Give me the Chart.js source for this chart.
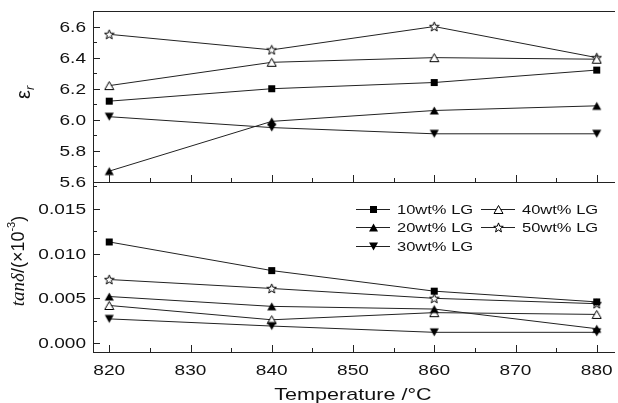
<!DOCTYPE html>
<html>
<head>
<meta charset="utf-8">
<script src="https://cdn.jsdelivr.net/npm/chart.js@4.4.0/dist/chart.umd.min.js"></script>
<style>
  body { margin: 0; background: #fff; }
  #wrap { width: 618px; height: 403px; }
</style>
</head>
<body>
<div id="wrap"><canvas id="myChart" width="618" height="403"></canvas></div>
<script>
// sintering temperatures (°C)
var temps = [820, 840, 860, 880];
var seriesNames = ['10wt% LG', '20wt% LG', '30wt% LG', '40wt% LG', '50wt% LG'];

// dielectric constant
var eps10 = [6.12, 6.20, 6.24, 6.32];
var eps20 = [5.67, 5.99, 6.06, 6.09];
var eps30 = [6.02, 5.95, 5.91, 5.91];
var eps40 = [6.22, 6.37, 6.40, 6.39];
var eps50 = [6.55, 6.45, 6.60, 6.40];

// dielectric loss
var tan10 = [0.0113, 0.0081, 0.0058, 0.0046];
var tan20 = [0.0052, 0.0041, 0.0038, 0.0016];
var tan30 = [0.0027, 0.0019, 0.0012, 0.0012];
var tan40 = [0.0042, 0.0026, 0.0034, 0.0032];
var tan50 = [0.0071, 0.0061, 0.0050, 0.0044];

// tick labels
var tempTicks = [820, 830, 840, 850, 860, 870, 880];
var epsTicks = [5.6, 5.8, 6.0, 6.2, 6.4, 6.6];
var tanTicks = [0.000, 0.005, 0.010, 0.015];

var SANS = '"Liberation Sans", Arial, Helvetica, sans-serif';
var INK = '#111';
var WIDE = 1.27; // the figure's lettering is set a bit wide

// little canvases used as point symbols
function marker(kind) {
  var c = document.createElement('canvas');
  c.width = 11; c.height = 11;
  var g = c.getContext('2d');
  g.fillStyle = '#000';
  g.strokeStyle = '#000';
  g.lineWidth = 1;
  if (kind == 'square') {
    g.fillRect(2, 2, 7, 7);
  } else if (kind == 'up' || kind == 'openUp') {
    g.beginPath();
    g.moveTo(5.5, 1.5); g.lineTo(10, 9.5); g.lineTo(1, 9.5); g.closePath();
    if (kind == 'up') { g.fill(); } else { g.fillStyle = '#fff'; g.fill(); g.stroke(); }
  } else if (kind == 'down') {
    g.beginPath();
    g.moveTo(1, 1.5); g.lineTo(10, 1.5); g.lineTo(5.5, 9.5); g.closePath();
    g.fill();
  } else {
    g.beginPath();
    for (var i = 0; i < 10; i++) {
      var r = i % 2 ? 2.1 : 5;
      var a = -Math.PI / 2 + i * Math.PI / 5;
      var px = 5.5 + r * Math.cos(a), py = 5.9 + r * Math.sin(a);
      if (i == 0) g.moveTo(px, py); else g.lineTo(px, py);
    }
    g.closePath();
    g.fillStyle = '#fff'; g.fill(); g.stroke();
  }
  return c;
}

var symbols = ['square', 'up', 'down', 'openUp', 'star'].map(marker);
var epsSeries = [eps10, eps20, eps30, eps40, eps50];
var tanSeries = [tan10, tan20, tan30, tan40, tan50];

function toPoints(vals) {
  return vals.map(function (v, i) { return { x: temps[i], y: v }; });
}

function makeSet(vals, i, axis) {
  return {
    label: seriesNames[i],
    data: toPoints(vals),
    yAxisID: axis,
    borderColor: '#222',
    borderWidth: 1,
    pointStyle: symbols[i],
    pointRadius: 4,
    tension: 0,
    fill: false
  };
}

var datasets = [];
epsSeries.forEach(function (s, i) { datasets.push(makeSet(s, i, 'yTop')); });
tanSeries.forEach(function (s, i) { datasets.push(makeSet(s, i, 'yBot')); });

// minor ticks sit halfway between the labelled ones
function minors(major, lo, hi) {
  var step = major[1] - major[0], out = [];
  for (var v = major[0] - step / 2; v <= hi + 1e-9; v += step) {
    if (v >= lo - 1e-9) out.push(v);
  }
  return out;
}

function hline(ctx, x1, x2, y) {
  y = Math.round(y) + 0.5;
  ctx.beginPath(); ctx.moveTo(x1, y); ctx.lineTo(x2, y); ctx.stroke();
}
function vline(ctx, x, y1, y2) {
  x = Math.round(x) + 0.5;
  ctx.beginPath(); ctx.moveTo(x, y1); ctx.lineTo(x, y2); ctx.stroke();
}
function wideText(ctx, text, x, y, align) {
  ctx.save();
  ctx.translate(x, y);
  ctx.scale(WIDE, 1);
  ctx.textAlign = align;
  ctx.fillText(text, 0, 0);
  ctx.restore();
}

// frame, inward ticks, tick labels, axis titles and the legend box
var framePlugin = {
  id: 'frame',
  afterDraw: function (chart) {
    var ctx = chart.ctx, a = chart.chartArea;
    var sx = chart.scales.x, st = chart.scales.yTop, sb = chart.scales.yBot;
    var mid = st.bottom;
    ctx.save();
    ctx.strokeStyle = '#222';
    ctx.lineWidth = 1;
    hline(ctx, a.left, a.right + 2, a.top);
    hline(ctx, a.left, a.right + 2, mid);
    hline(ctx, a.left, a.right + 2, a.bottom);
    vline(ctx, a.left, a.top, a.bottom + 1);

    // x ticks on both panels
    [mid, a.bottom].forEach(function (base) {
      tempTicks.forEach(function (v) { vline(ctx, sx.getPixelForValue(v), base - 7, base); });
      minors(tempTicks, sx.min, sx.max).forEach(function (v) {
        vline(ctx, sx.getPixelForValue(v), base - 4, base);
      });
    });
    // y ticks
    [[st, epsTicks], [sb, tanTicks]].forEach(function (p) {
      var s = p[0];
      p[1].forEach(function (v) { hline(ctx, a.left, a.left + 7, s.getPixelForValue(v)); });
      minors(p[1], s.min, s.max).forEach(function (v) {
        hline(ctx, a.left, a.left + 4, s.getPixelForValue(v));
      });
    });

    // tick labels
    ctx.fillStyle = INK;
    ctx.font = '15px ' + SANS;
    ctx.textBaseline = 'middle';
    epsTicks.forEach(function (v) { wideText(ctx, v.toFixed(1), a.left - 7, st.getPixelForValue(v) + 1, 'right'); });
    tanTicks.forEach(function (v) { wideText(ctx, v.toFixed(3), a.left - 7, sb.getPixelForValue(v) + 1, 'right'); });
    tempTicks.forEach(function (v) { wideText(ctx, String(v), sx.getPixelForValue(v), a.bottom + 19, 'center'); });

    // x title
    ctx.font = '17px ' + SANS;
    wideText(ctx, 'Temperature /°C', (a.left + a.right) / 2, a.bottom + 43, 'center');

    // y titles
    ctx.textBaseline = 'alphabetic';
    ctx.save();
    ctx.translate(30, (st.top + st.bottom) / 2 - 5);
    ctx.rotate(-Math.PI / 2);
    ctx.font = '20px ' + SANS;
    ctx.textAlign = 'left';
    var ew = ctx.measureText('ε').width;
    ctx.fillText('ε', -ew / 2 - 3, 0);
    ctx.font = 'italic 13px ' + SANS;
    ctx.fillText('r', ew / 2 - 3, 4);
    ctx.restore();

    ctx.save();
    ctx.translate(24, (sb.top + sb.bottom) / 2 - 6);
    ctx.rotate(-Math.PI / 2);
    var parts = [
      ['tanδ', 'italic 19px "Liberation Serif", "Times New Roman", serif', 0],
      ['/(×10', '18px ' + SANS, 0],
      ['-3', '11px ' + SANS, -9],
      [')', '18px ' + SANS, 0]
    ];
    var total = 0;
    parts.forEach(function (p) { ctx.font = p[1]; total += ctx.measureText(p[0]).width; });
    var cx = -total / 2;
    parts.forEach(function (p) {
      ctx.font = p[1];
      ctx.fillText(p[0], cx, p[2]);
      cx += ctx.measureText(p[0]).width;
    });
    ctx.restore();

    // legend: two columns, filled row by row
    var order = [[0, 0, 0], [3, 1, 0], [1, 0, 1], [4, 1, 1], [2, 0, 2]];
    var colX = [356, 481];
    ctx.font = '13px ' + SANS;
    ctx.textBaseline = 'middle';
    order.forEach(function (o) {
      var x = colX[o[1]], y = sb.top + 27 + o[2] * 18.5;
      ctx.strokeStyle = '#222';
      hline(ctx, x, x + 34, y - 0.5);
      var img = symbols[o[0]];
      ctx.drawImage(img, Math.round(x + 17 - img.width / 2), Math.round(y - img.height / 2));
      ctx.fillStyle = INK;
      wideText(ctx, seriesNames[o[0]], x + 41, y + 1, 'left');
    });
    ctx.restore();
  }
};

function noPad(s) {
  s.paddingTop = 0; s.paddingBottom = 0; s.paddingLeft = 0; s.paddingRight = 0;
}

var ctx = document.getElementById('myChart').getContext('2d');
var myChart = new Chart(ctx, {
  type: 'line',
  data: { datasets: datasets },
  options: {
    responsive: false,
    animation: false,
    layout: { padding: { top: 11, left: 0, right: 0, bottom: 0 } },
    plugins: { legend: { display: false }, tooltip: { enabled: false } },
    scales: {
      x: {
        type: 'linear', position: 'bottom', min: 818, max: 882,
        grid: { display: false, drawTicks: false },
        border: { display: false },
        ticks: { display: false },
        afterFit: function (s) { s.height = 51; noPad(s); }
      },
      yBot: {
        type: 'linear', position: 'left', stack: 'panels', stackWeight: 170,
        min: -0.001, max: 0.018,
        grid: { display: false, drawTicks: false },
        border: { display: false },
        ticks: { display: false },
        afterFit: function (s) { s.width = 93; noPad(s); }
      },
      yTop: {
        type: 'linear', position: 'left', stack: 'panels', stackWeight: 171,
        min: 5.6, max: 6.7,
        grid: { display: false, drawTicks: false },
        border: { display: false },
        ticks: { display: false },
        afterFit: function (s) { s.width = 93; noPad(s); }
      }
    }
  },
  plugins: [framePlugin]
});
</script>
</body>
</html>
